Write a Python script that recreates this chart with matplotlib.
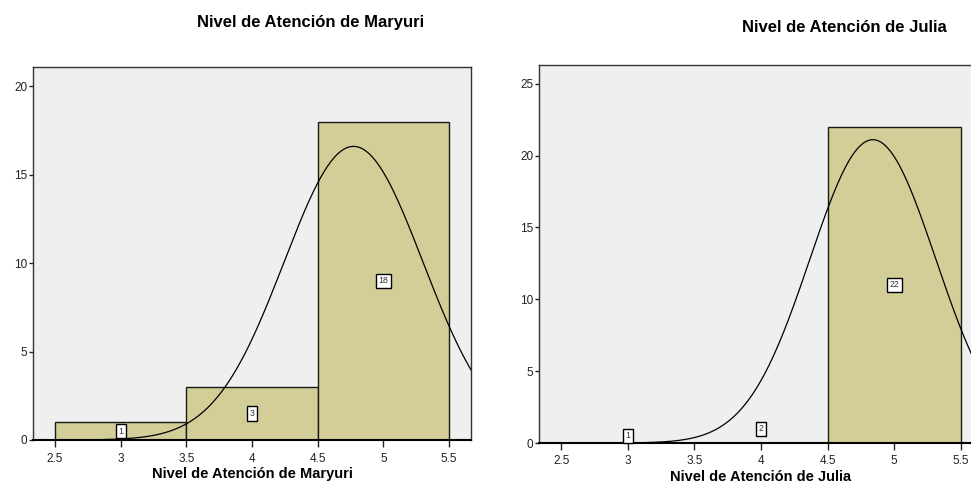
import numpy as np
import matplotlib.pyplot as plt

plt.rcParams['font.family'] = ['Liberation Sans', 'DejaVu Sans']

# data
valores = [3, 4, 5]
maryuri = [1, 3, 18]
julia = [1, 2, 22]
julia_visible = [False, False, True]  # in the original only the last bar of Julia is drawn
titulo_m = 'Nivel de Atención de Maryuri'
titulo_j = 'Nivel de Atención de Julia'

bar_col = '#d3ce98'
bg = '#efefef'

fig = plt.figure(figsize=(9.71, 4.84), dpi=100)
ax1 = fig.add_axes([33/971, 1-440/484, (471-33)/971, (440-67)/484])
ax2 = fig.add_axes([539/971, 1-443/484, (983-539)/971, (443-65)/484])


def histo(ax, counts, visible, ylim, yticks, xlabel):
    ax.set_facecolor(bg)
    v = np.array(valores, dtype=float)
    c = np.array(counts, dtype=float)
    for xi, ci, vis in zip(v, c, visible):
        if vis:
            ax.bar(xi, ci, width=1.0, color=bar_col, edgecolor='#1a1a1a', linewidth=1, zorder=2)
        ax.text(xi, ci/2, str(int(ci)), fontsize=6.3, ha='center', va='center', zorder=4,
                color='#333333',
                bbox=dict(boxstyle='square,pad=0.3', fc='white', ec='black', lw=1))
    # normal curve from the data
    n = c.sum()
    m = (v*c).sum()/n
    sd = np.sqrt(((v - m)**2*c).sum()/(n - 1))
    xs = np.linspace(2.333, 5.667, 400)
    ys = n*1.0/(sd*np.sqrt(2*np.pi))*np.exp(-0.5*((xs - m)/sd)**2)
    ax.plot(xs, ys, color='black', lw=0.9, zorder=3)
    ax.set_xlim(2.333, 5.667)
    ax.set_ylim(0, ylim)
    ax.set_xticks([2.5, 3, 3.5, 4, 4.5, 5, 5.5])
    ax.set_xticklabels(['2.5', '3', '3.5', '4', '4.5', '5', '5.5'])
    ax.set_yticks(yticks)
    ax.tick_params(axis='x', direction='out', length=5, width=1, labelsize=8.5, pad=4, colors='#222222')
    ax.tick_params(axis='y', direction='out', length=3, width=1, labelsize=8.5, pad=1, colors='#222222')
    for s in ax.spines.values():
        s.set_color('#333333')
        s.set_linewidth(1)
    ax.spines['bottom'].set_color('black')
    ax.spines['bottom'].set_linewidth(1.5)
    ax.set_xlabel(xlabel, fontsize=10.5, fontweight='bold', labelpad=2)


histo(ax1, maryuri, [True, True, True], 21.1, [0, 5, 10, 15, 20], titulo_m)
histo(ax2, julia, julia_visible, 26.3, [0, 5, 10, 15, 20, 25], titulo_j)

fig.text(311/971, 1-23/484, titulo_m, fontsize=12, fontweight='bold', ha='center', va='center')
fig.text(844/971, 1-27/484, titulo_j, fontsize=12, fontweight='bold', ha='center', va='center')

fig.savefig('out.png', dpi=100)
